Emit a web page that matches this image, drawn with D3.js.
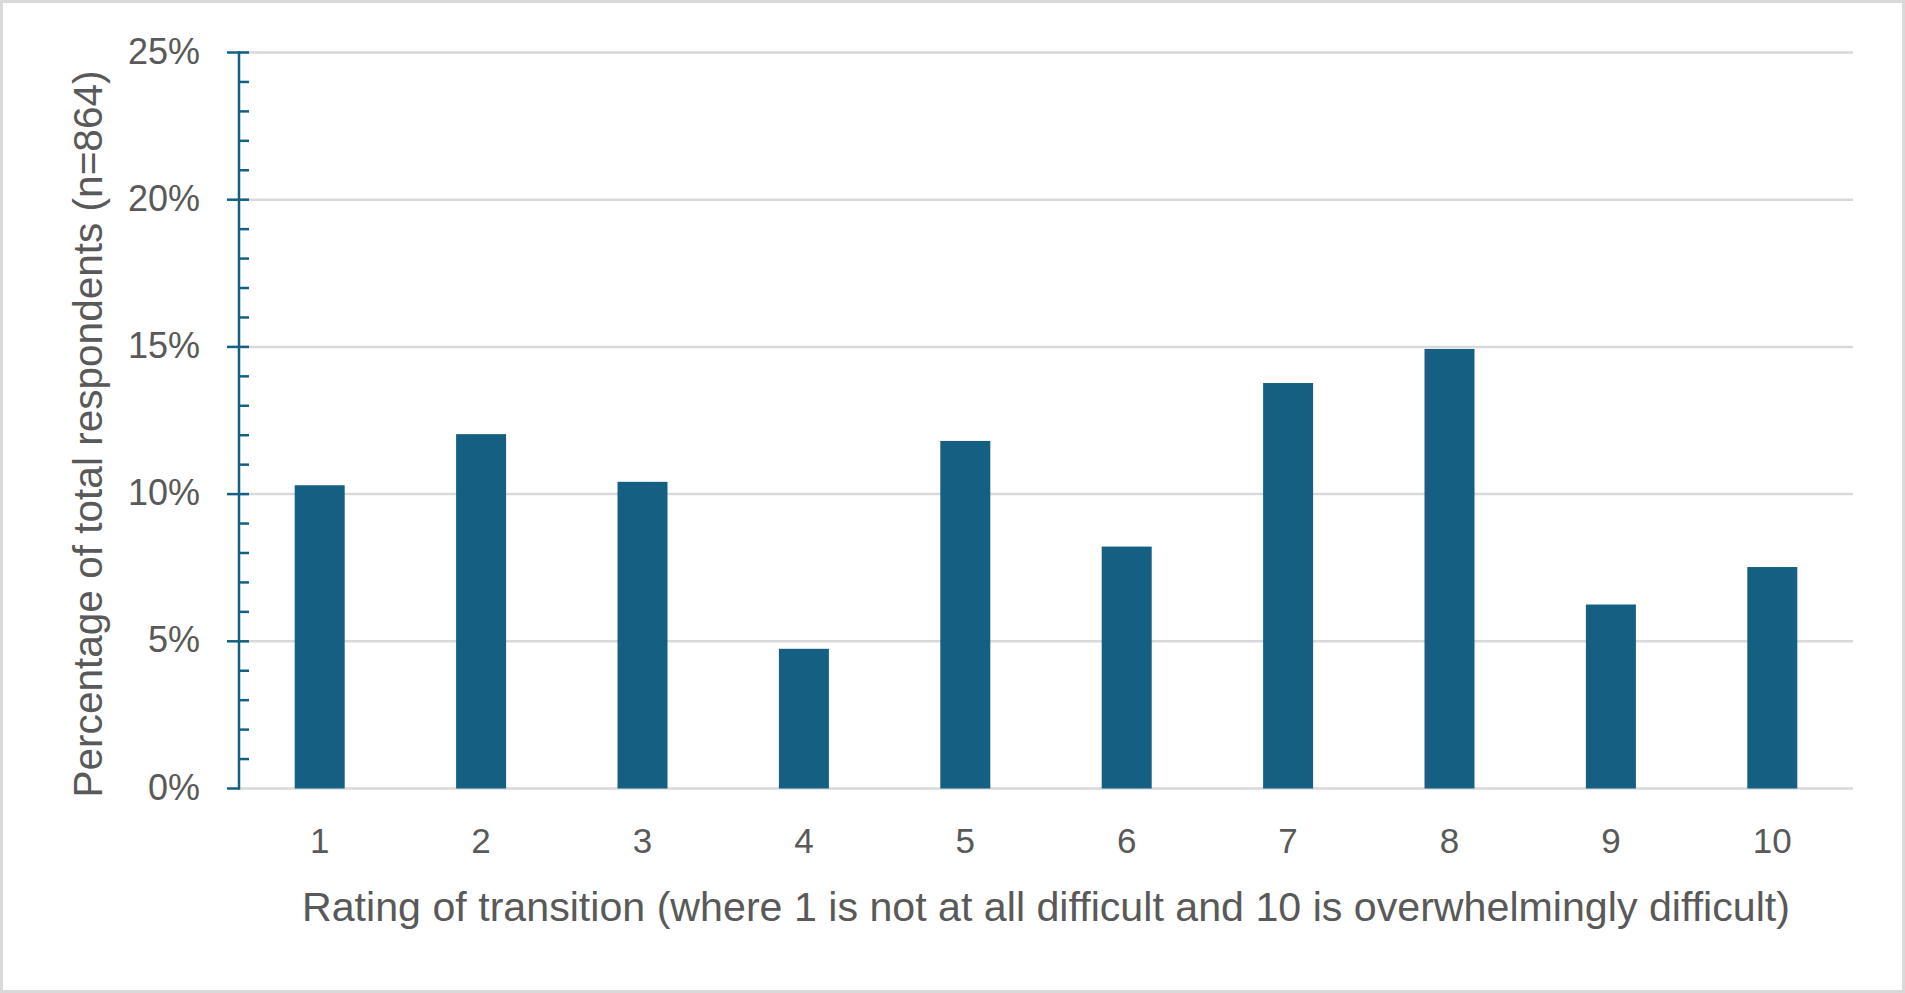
<!DOCTYPE html>
<html>
<head>
<meta charset="utf-8">
<script src="https://cdn.jsdelivr.net/npm/d3@7"></script>
<style>
  html, body { margin: 0; padding: 0; background: #fff; }
  svg { display: block; }
</style>
</head>
<body>
<svg id="chart" width="1905" height="993"></svg>
<script>
// ---- data ----
const categories = ["1", "2", "3", "4", "5", "6", "7", "8", "9", "10"];
const respondentCounts = [89, 104, 90, 41, 102, 71, 119, 129, 54, 65];
const totalRespondents = 864;
const percentages = respondentCounts.map(c => c / totalRespondents);
const yTickValues = [0, 0.05, 0.10, 0.15, 0.20, 0.25];
const yTickLabels = ["0%", "5%", "10%", "15%", "20%", "25%"];
const yMinorTickValues = d3.range(0, 26).map(v => v / 100);
const xTitle = "Rating of transition (where 1 is not at all difficult and 10 is overwhelmingly difficult)";
const yTitle = "Percentage of total respondents (n=864)";

// ---- layout ----
const W = 1905, H = 993;
const plot = { left: 239, right: 1853, top: 52.5, bottom: 788.5 };
const barColor = "#156082";
const gridColor = "#d9d9d9";
const textColor = "#595959";
const narrowFont = "'Liberation Sans Narrow', 'Liberation Sans', Arial, sans-serif";
const sansFont = "'Liberation Sans', Arial, sans-serif";

const svg = d3.select("#chart");

// outer border
svg.append("rect")
  .attr("x", 1.5).attr("y", 1.5)
  .attr("width", W - 3).attr("height", H - 3)
  .attr("fill", "#fff")
  .attr("stroke", gridColor).attr("stroke-width", 3);

const barFrac = 50 / ((plot.right - plot.left) / categories.length);
const x = d3.scaleBand()
  .domain(categories)
  .range([plot.left, plot.right])
  .paddingInner(1 - barFrac)
  .paddingOuter((1 - barFrac) / 2);

const y = d3.scaleLinear().domain([0, 0.25]).range([plot.bottom, plot.top]);

// gridlines
svg.append("g").selectAll("line")
  .data(yTickValues)
  .join("line")
  .attr("x1", plot.left).attr("x2", plot.right)
  .attr("y1", d => y(d)).attr("y2", d => y(d))
  .attr("stroke", gridColor).attr("stroke-width", 2.5);

// bars
svg.append("g").selectAll("rect")
  .data(categories)
  .join("rect")
  .attr("x", d => x(d))
  .attr("width", x.bandwidth())
  .attr("y", (d, i) => y(percentages[i]))
  .attr("height", (d, i) => y(0) - y(percentages[i]))
  .attr("fill", barColor);

// y axis: minor ticks (inside), major ticks crossing
const yAxisG = svg.append("g");
yAxisG.append("g").selectAll("line")
  .data(yMinorTickValues.filter(v => !yTickValues.some(t => Math.abs(t - v) < 1e-9)))
  .join("line")
  .attr("x1", plot.left).attr("x2", plot.left + 10)
  .attr("y1", d => y(d)).attr("y2", d => y(d))
  .attr("stroke", barColor).attr("stroke-width", 2.5);
yAxisG.append("g").selectAll("line")
  .data(yTickValues)
  .join("line")
  .attr("x1", plot.left - 12).attr("x2", d => d === 0 ? plot.left : plot.left + 10)
  .attr("y1", d => y(d)).attr("y2", d => y(d))
  .attr("stroke", barColor).attr("stroke-width", 2.5);
yAxisG.append("line")
  .attr("x1", plot.left).attr("x2", plot.left)
  .attr("y1", y(0.25) - 1.25).attr("y2", y(0) + 1.25)
  .attr("stroke", barColor).attr("stroke-width", 2.5);

// y tick labels
svg.append("g").selectAll("text")
  .data(yTickValues)
  .join("text")
  .attr("x", 200)
  .attr("y", d => y(d))
  .attr("dy", "0.31em")
  .attr("text-anchor", "end")
  .attr("font-family", sansFont)
  .attr("font-size", 36)
  .attr("fill", textColor)
  .text((d, i) => yTickLabels[i]);

// x tick labels
svg.append("g").selectAll("text")
  .data(categories)
  .join("text")
  .attr("x", d => x(d) + x.bandwidth() / 2)
  .attr("y", 853)
  .attr("text-anchor", "middle")
  .attr("font-family", narrowFont)
  .attr("font-size", 35)
  .attr("fill", textColor)
  .text(d => d);

// x title
svg.append("text")
  .attr("x", (plot.left + plot.right) / 2)
  .attr("y", 921)
  .attr("text-anchor", "middle")
  .attr("font-family", narrowFont)
  .attr("font-size", 41)
  .attr("fill", textColor)
  .attr("textLength", 1488)
  .attr("lengthAdjust", "spacingAndGlyphs")
  .text(xTitle);

// y title
svg.append("text")
  .attr("transform", "translate(101.5,434) rotate(-90)")
  .attr("text-anchor", "middle")
  .attr("font-family", sansFont)
  .attr("font-size", 41)
  .attr("fill", textColor)
  .attr("textLength", 727)
  .attr("lengthAdjust", "spacingAndGlyphs")
  .text(yTitle);
</script>
</body>
</html>
